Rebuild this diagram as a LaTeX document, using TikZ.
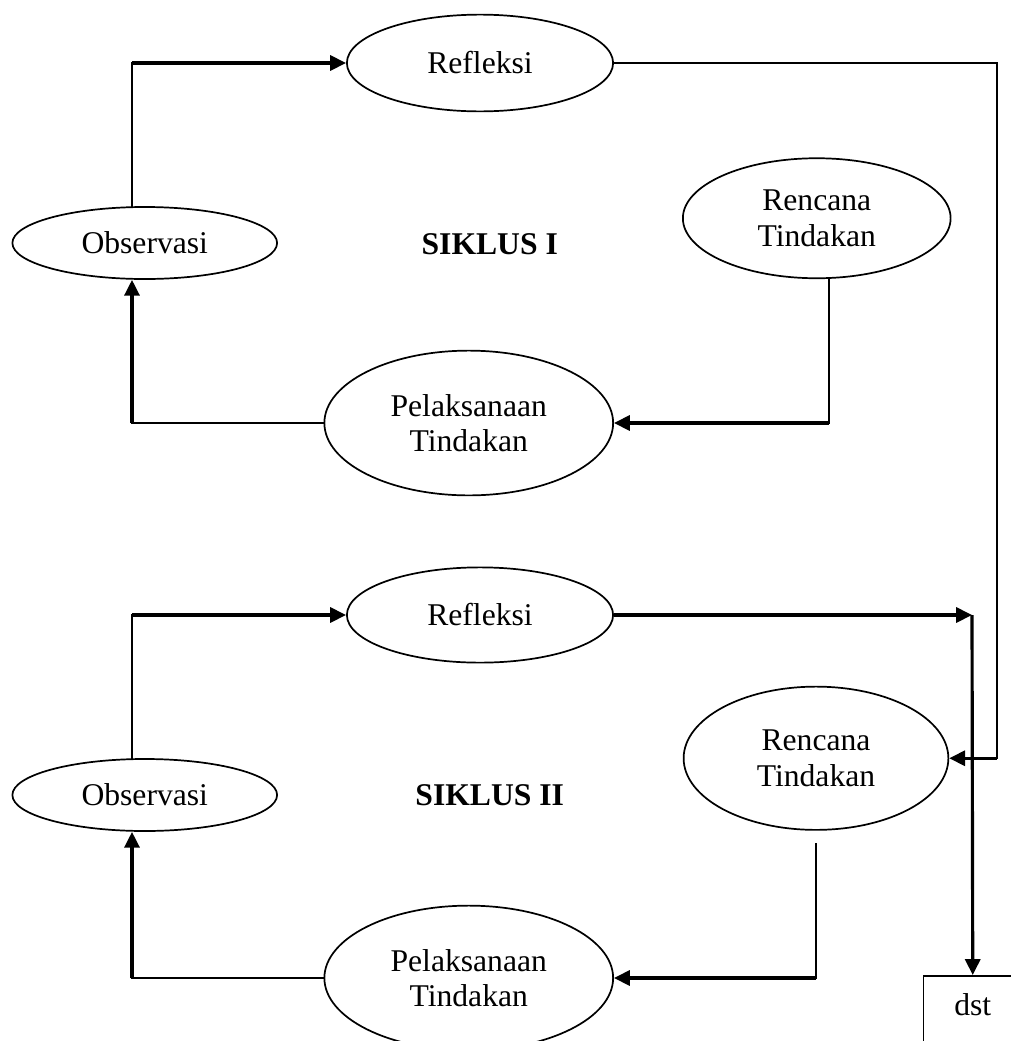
\documentclass[tikz,border=0pt]{standalone}
\usepackage{fontspec}
\setmainfont{Liberation Serif}
\usetikzlibrary{shapes, arrows.meta, positioning}

\begin{document}
\begin{tikzpicture}[
    proses/.style={
        ellipse,
        draw,
        line width=0.65pt,
        inner sep=0pt,
        align=center,
        font=\fontsize{12pt}{13.5pt}\selectfont
    },
    judul/.style={
        font=\fontsize{12pt}{13.5pt}\selectfont\bfseries
    },
    arrow/.style={
        ->,
        >={Triangle[length=6pt, width=5.7pt]},
        line width=1.2pt
    },
    link/.style={
        line width=0.65pt,
        line cap=rect
    }
]
\useasboundingbox (0,0) rectangle (13.48,-13.88);
\clip (0,0) rectangle (13.48,-13.88);

% Siklus I
\node[proses, minimum width=3.55cm, minimum height=1.29cm] (ref1) at (6.40,-0.84) {Refleksi};
\node[proses, minimum width=3.53cm, minimum height=0.96cm] (obs1) at (1.93,-3.24) {Observasi};
\node[proses, minimum width=3.57cm, minimum height=1.60cm] (ren1) at (10.89,-2.91) {Rencana\\Tindakan};
\node[proses, minimum width=3.85cm, minimum height=1.93cm] (pel1) at (6.25,-5.64) {Pelaksanaan\\Tindakan};
\node[judul] (sik1) at (6.53,-3.25) {SIKLUS I};

% Siklus II
\node[proses, minimum width=3.55cm, minimum height=1.27cm] (ref2) at (6.40,-8.20) {Refleksi};
\node[proses, minimum width=3.53cm, minimum height=0.96cm] (obs2) at (1.93,-10.60) {Observasi};
\node[proses, minimum width=3.53cm, minimum height=1.91cm] (ren2) at (10.88,-10.11) {Rencana\\Tindakan};
\node[proses, minimum width=3.85cm, minimum height=1.93cm] (pel2) at (6.25,-13.04) {Pelaksanaan\\Tindakan};
\node[judul] (sik2) at (6.53,-10.60) {SIKLUS II};

% Lanjutan
\node[draw, line width=0.65pt, anchor=north, minimum width=1.31cm, text height=0.28cm, text depth=0.6cm,
      inner ysep=0.25cm, font=\fontsize{12pt}{13.5pt}\selectfont] (dst) at (12.97,-13.0) {dst};

% Helper lines
\coordinate (lx) at (1.76,0);
\coordinate (rx) at (13.29,0);
\coordinate (jx) at (12.96,0);
\coordinate (r1) at ([xshift=0.16cm]ren1.south);
\coordinate (r2) at ([yshift=-0.17cm]ren2.south);

% Alur siklus I
\draw[link] (obs1.north -| lx) -- (lx |- ref1.west);
\draw[arrow] (lx |- ref1.west) -- (ref1.west);
\draw[link] (r1) -- (r1 |- pel1.east);
\draw[arrow] (r1 |- pel1.east) -- (pel1.east);
\draw[link] (pel1.west) -- (lx |- pel1.west);
\draw[arrow] (lx |- pel1.west) -- (obs1.south -| lx);

% Dari siklus I ke siklus II
\draw[link] (ref1.east) -| (rx |- ren2.east);
\draw[arrow] (rx |- ren2.east) -- (ren2.east);

% Alur siklus II
\draw[link] (obs2.north -| lx) -- (lx |- ref2.west);
\draw[arrow] (lx |- ref2.west) -- (ref2.west);
\draw[link] (r2) -- (r2 |- pel2.east);
\draw[arrow] (r2 |- pel2.east) -- (pel2.east);
\draw[link] (pel2.west) -- (lx |- pel2.west);
\draw[arrow] (lx |- pel2.west) -- (obs2.south -| lx);
\draw[arrow] (ref2.east) -- (jx |- ref2.east);
\draw[arrow] (jx |- ref2.east) -- (dst.north);

\end{tikzpicture}
\end{document}
